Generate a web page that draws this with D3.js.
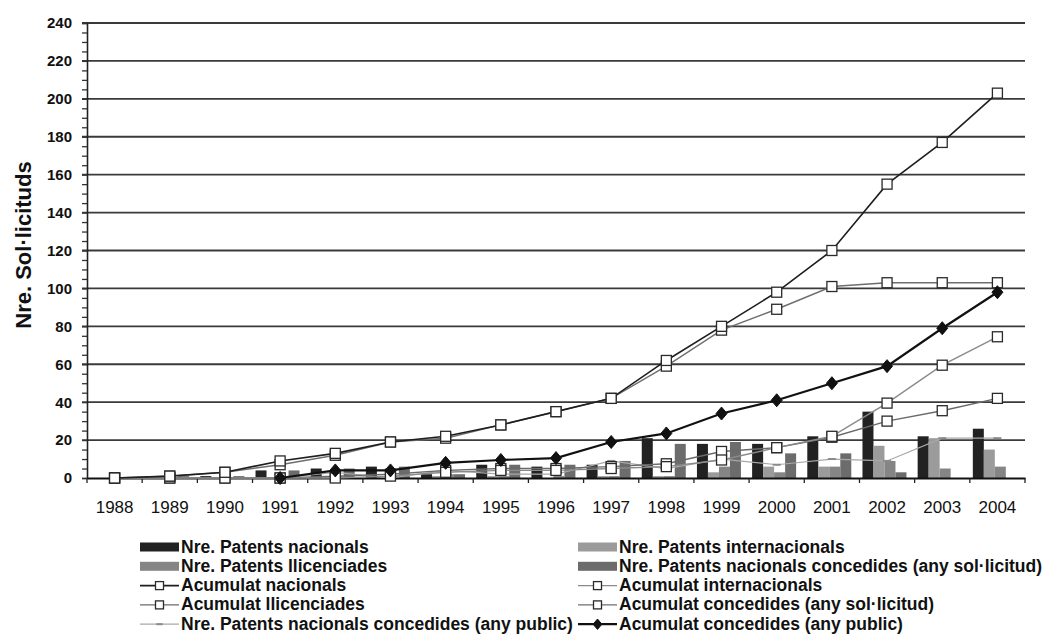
<!DOCTYPE html>
<html><head><meta charset="utf-8">
<script src="https://cdn.jsdelivr.net/npm/d3@7"></script>
<style>body{margin:0;background:#fff}text{font-family:"Liberation Sans",Arial,sans-serif}</style>
</head><body>
<svg id="c" width="1043" height="634"></svg>
<script>
// ---- data ----
const years = ["1988","1989","1990","1991","1992","1993","1994","1995","1996","1997","1998","1999","2000","2001","2002","2003","2004"];
const yTicks = [0,20,40,60,80,100,120,140,160,180,200,220,240];
// bars
const patentsNacionals      = [0,1,1,4,5,6,2,7,6,7,21,18,18,22,35,22,26];
const patentsInternacionals = [0,0,0,0,0,1,1,1,0,1,1,3,6,6,17,21,15];
const patentsLlicenciades   = [0,0,0,0,1,1,2,1,1,1,1,6,3,6,9,5,6];
const patentsConcSol        = [0,1,1,4,5,6,2,7,7,9,18,19,13,13,3,0,0];
// lines
const acumNacionals      = [0,1,3,9,13,19,22,28,35,42,62,80,98,120,155,177,203];
const acumInternacionals = [0,0,0,0,0,1,3,4,4,5,6,9.5,16,22,39.5,59.5,74.5];
const acumLlicenciades   = [0,0,0,0,1,2,4,5,5,6,7.5,14,16,21.5,30,35.5,42];
const acumConcSol        = [0,1,3,7,12,19,21,28,35,42,59,78,89,101,103,103,103];
const patentsConcPublic  = [null,null,null,0,3,0,4,2,2,9,5,10,7,10,9,21,21];
const acumConcPublic     = [null,null,null,0,4,4,8,9.5,10.5,19,23.5,34,41,50,59,79,98];

const barLabels = ["Nre. Patents nacionals","Nre. Patents internacionals","Nre. Patents llicenciades","Nre. Patents nacionals concedides (any sol·licitud)"];
const lineLabels = ["Acumulat nacionals","Acumulat internacionals","Acumulat llicenciades","Acumulat concedides (any sol·licitud)","Nre. Patents nacionals concedides (any public)","Acumulat concedides (any public)"];
const yTitle = "Nre. Sol·licituds";

// ---- styles ----
const barColors = ["#222222","#9b9b9b","#858585","#6c6c6c"];
const lineStyles = [
  {color:"#1e1e1e", w:1.6, marker:"square"},
  {color:"#8a8a8a", w:1.4, marker:"square"},
  {color:"#6a6a6a", w:1.4, marker:"square"},
  {color:"#6e6e6e", w:1.4, marker:"square"},
  {color:"#a8a8a8", w:1.2, marker:"dash"},
  {color:"#111111", w:2.2, marker:"diamond"}
];

const svg = d3.select("#c");
const L = 87, R = 1025, T = 23, B = 478;
const x = d3.scaleBand().domain(years).range([L, R]).padding(0);
const y = d3.scaleLinear().domain([0, 240]).range([B, T]);
const bw = x.bandwidth();
const x1 = d3.scaleBand().domain(d3.range(4)).range([3, 47]).padding(0);

// gridlines
svg.append("g").selectAll("line").data(yTicks.filter(d => d > 0)).join("line")
  .attr("x1", L - 5).attr("x2", R).attr("y1", d => y(d)).attr("y2", d => y(d))
  .attr("stroke", "#3a3a3a").attr("stroke-width", 1.8);

// y axis
const yAxis = svg.append("g").attr("transform", `translate(${L},0)`)
  .call(d3.axisLeft(y).tickValues(d3.range(0, 241, 5)).tickSize(5).tickFormat(""));
yAxis.select(".domain").attr("stroke", "#222").attr("stroke-width", 1.6);
yAxis.selectAll(".tick line").attr("stroke", "#333").attr("stroke-width", 1.3);
svg.append("g").selectAll("text").data(yTicks).join("text")
  .attr("x", 72).attr("y", d => y(d)).attr("dy", "0.36em")
  .attr("text-anchor", "end").attr("font-size", 15).attr("font-weight", "bold").attr("fill", "#111")
  .text(d => d);

// bars
const barSeries = [patentsNacionals, patentsInternacionals, patentsLlicenciades, patentsConcSol];
barSeries.forEach((s, si) => {
  svg.append("g").selectAll("rect").data(s.map((v, i) => ({v, yr: years[i]}))).join("rect")
    .attr("x", d => x(d.yr) + x1(si)).attr("width", x1.bandwidth())
    .attr("y", d => y(d.v)).attr("height", d => B - y(d.v))
    .attr("fill", barColors[si]);
});

// x axis
const xAxis = svg.append("g").attr("transform", `translate(0,${B})`)
  .call(d3.axisBottom(x).tickSize(0).tickFormat(""));
xAxis.select(".domain").attr("stroke", "#111").attr("stroke-width", 1.8);
svg.append("g").selectAll("line").data(years.concat(["end"])).join("line")
  .attr("x1", (d, i) => L + i * bw).attr("x2", (d, i) => L + i * bw)
  .attr("y1", B).attr("y2", B + 5).attr("stroke", "#222").attr("stroke-width", 1.3);
svg.append("g").selectAll("text").data(years).join("text")
  .attr("x", d => x(d) + bw / 2).attr("y", 512.5).attr("text-anchor", "middle")
  .attr("font-size", 17).attr("fill", "#111").text(d => d);

// markers
function drawMarker(g, kind, cx, cy, st, s) {
  s = s || 1;
  if (kind === "square") {
    g.append("rect").attr("x", cx - 5 * s).attr("y", cy - 5 * s).attr("width", 10 * s).attr("height", 10 * s)
      .attr("fill", "#fff").attr("stroke", "#2a2a2a").attr("stroke-width", 1.3);
  } else if (kind === "diamond") {
    g.append("path").attr("d", `M${cx},${cy - 6.5 * s}L${cx + 5.5 * s},${cy}L${cx},${cy + 6.5 * s}L${cx - 5.5 * s},${cy}Z`)
      .attr("fill", "#111").attr("stroke", "#111");
  } else if (kind === "dash") {
    g.append("line").attr("x1", cx - 4 * s).attr("x2", cx + 4 * s).attr("y1", cy).attr("y2", cy)
      .attr("stroke", "#8a8a8a").attr("stroke-width", 2);
  }
}

// lines
const lineSeries = [acumNacionals, acumInternacionals, acumLlicenciades, acumConcSol, patentsConcPublic, acumConcPublic];
const order = [4, 2, 1, 3, 0, 5];
order.forEach(si => {
  const s = lineSeries[si], st = lineStyles[si];
  const pts = s.map((v, i) => ({v, yr: years[i]}));
  const line = d3.line().defined(d => d.v != null).x(d => x(d.yr) + bw / 2).y(d => y(d.v));
  const g = svg.append("g");
  g.append("path").attr("d", line(pts)).attr("fill", "none").attr("stroke", st.color).attr("stroke-width", st.w);
  pts.filter(d => d.v != null).forEach(d => drawMarker(g, st.marker, x(d.yr) + bw / 2, y(d.v), st));
});

// y title
svg.append("text").attr("transform", "translate(31,245) rotate(-90)").attr("text-anchor", "middle")
  .attr("font-size", 22).attr("font-weight", "bold").attr("fill", "#111").text(yTitle);

// legend
const legendItems = [
  {label: barLabels[0], type: "bar", c: barColors[0]},
  {label: barLabels[1], type: "bar", c: barColors[1]},
  {label: barLabels[2], type: "bar", c: barColors[2]},
  {label: barLabels[3], type: "bar", c: barColors[3]},
  {label: lineLabels[0], type: "line", st: lineStyles[0]},
  {label: lineLabels[1], type: "line", st: lineStyles[1]},
  {label: lineLabels[2], type: "line", st: lineStyles[2]},
  {label: lineLabels[3], type: "line", st: lineStyles[3]},
  {label: lineLabels[4], type: "line", st: lineStyles[4]},
  {label: lineLabels[5], type: "line", st: lineStyles[5]}
];
const colX = [140, 578], swW = 39, rowY0 = 552.5, rowH = 19.3;
const lg = svg.append("g");
legendItems.forEach((it, i) => {
  const col = i % 2, row = Math.floor(i / 2);
  const sx = colX[col], by = rowY0 + row * rowH, cy = by - 5.5;
  if (it.type === "bar") {
    lg.append("rect").attr("x", sx).attr("y", cy - 4.5).attr("width", swW).attr("height", 9).attr("fill", it.c);
  } else {
    lg.append("line").attr("x1", sx).attr("x2", sx + swW).attr("y1", cy).attr("y2", cy)
      .attr("stroke", it.st.color).attr("stroke-width", it.st.w);
    drawMarker(lg, it.st.marker, sx + swW / 2, cy, it.st, 0.8);
  }
  lg.append("text").attr("x", sx + swW + 2).attr("y", by).attr("font-size", 17.5).attr("font-weight", "bold")
    .attr("fill", "#111").text(it.label);
});
</script>
</body></html>
